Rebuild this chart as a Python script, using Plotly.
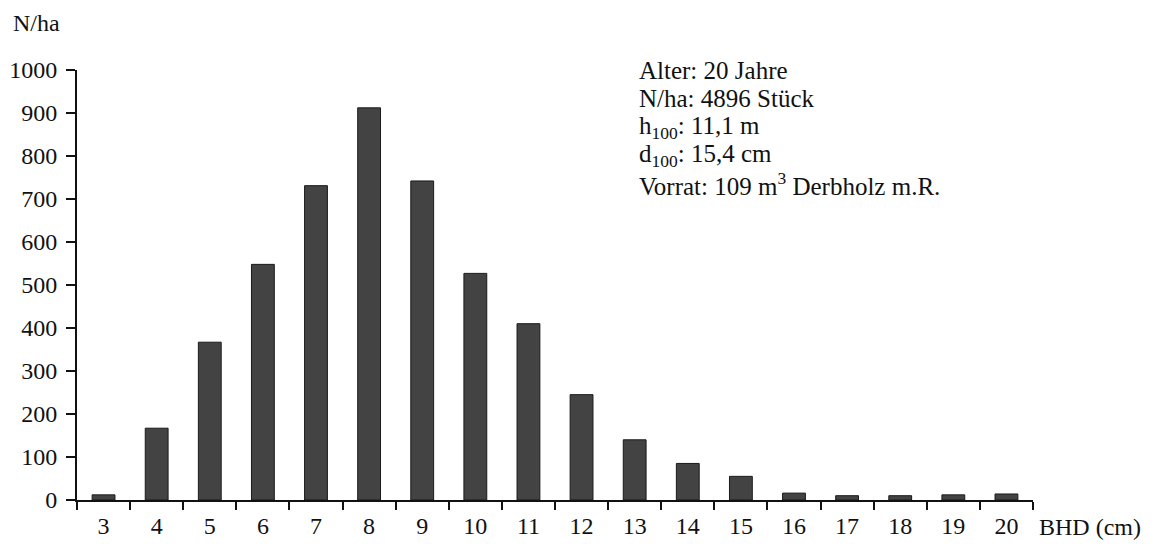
import plotly.graph_objects as go

bhd_classes = ["3", "4", "5", "6", "7", "8", "9", "10", "11", "12", "13", "14", "15", "16", "17", "18", "19", "20"]
n_per_ha = [12, 167, 367, 548, 731, 912, 742, 527, 410, 245, 140, 85, 55, 16, 10, 10, 12, 14]
y_ticks = [0, 100, 200, 300, 400, 500, 600, 700, 800, 900, 1000]
info_lines = [
    "Alter: 20 Jahre",
    "N/ha: 4896 Stück",
    "h<sub>100</sub>: 11,1 m",
    "d<sub>100</sub>: 15,4 cm",
    "Vorrat: 109 m<sup>3</sup> Derbholz m.R.",
]

FONT = "Liberation Serif"

fig = go.Figure()
fig.add_trace(go.Bar(
    x=bhd_classes, y=n_per_ha,
    marker=dict(color="#434343", line=dict(color="#1a1a1a", width=1)),
    width=0.43,
))

fig.update_layout(
    width=1147, height=536,
    margin=dict(l=69, r=122, t=62, b=44),
    paper_bgcolor="white", plot_bgcolor="white",
    font=dict(family=FONT, size=24, color="#111111"),
    showlegend=False,
    xaxis=dict(
        type="category", tickson="boundaries",
        range=[-0.5, 17.5], automargin=False,
        showline=True, linecolor="#111111", linewidth=2,
        ticks="outside", ticklen=8, tickwidth=2, tickcolor="#111111",
        showgrid=False, zeroline=False,
        tickfont=dict(family=FONT, size=24),
        ticklabelstandoff=3,
    ),
    yaxis=dict(
        range=[0, 1000], tickvals=y_ticks, automargin=False,
        showline=True, linecolor="#111111", linewidth=2,
        ticks="outside", ticklen=9, tickwidth=2, tickcolor="#111111",
        showgrid=False, zeroline=False,
        tickfont=dict(family=FONT, size=24),
        ticklabelstandoff=4,
    ),
)

fig.add_annotation(text="N/ha", xref="paper", yref="paper", x=-0.069, y=1.109,
                   xanchor="left", yanchor="middle", showarrow=False,
                   font=dict(family=FONT, size=24))
fig.add_annotation(text="BHD (cm)", xref="paper", yref="paper", x=1.004, y=-0.062,
                   xanchor="left", yanchor="middle", showarrow=False,
                   font=dict(family=FONT, size=24))

line_y = [1.0, 0.933, 0.867, 0.802, 0.735]
for txt, yy in zip(info_lines, line_y):
    fig.add_annotation(text=txt, xref="paper", yref="paper", x=0.586, y=yy,
                       xanchor="left", yanchor="middle", showarrow=False,
                       font=dict(family=FONT, size=25))

fig.write_html("out.html")
